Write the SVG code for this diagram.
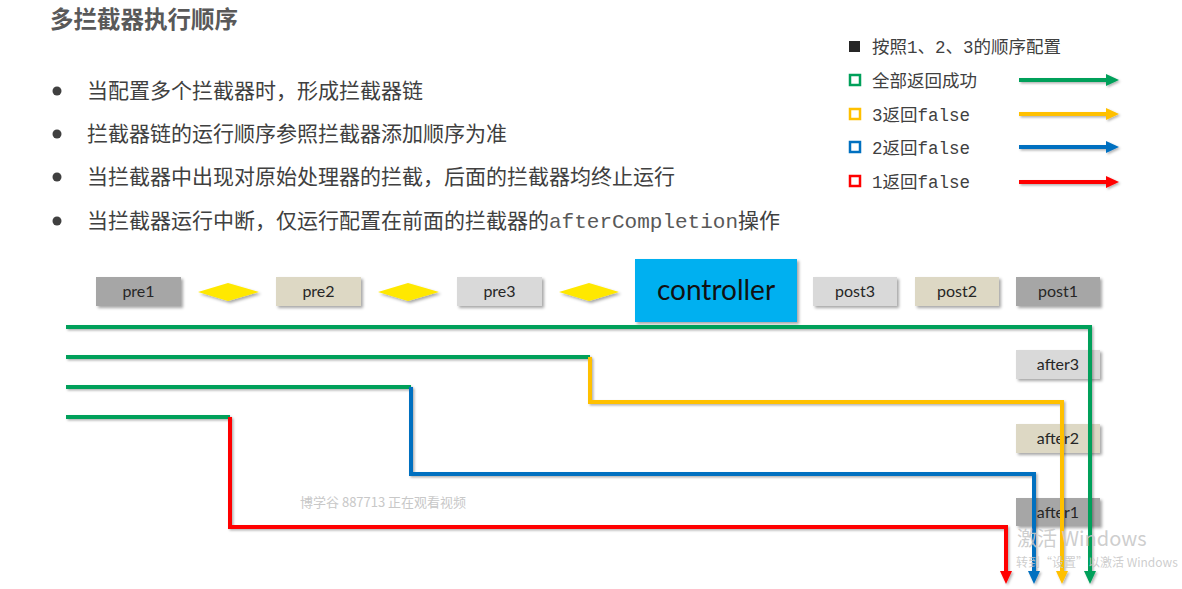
<svg xmlns="http://www.w3.org/2000/svg" width="1182" height="589" viewBox="0 0 1182 589">
<style>
.cn{font-family:"Noto Sans CJK SC","Noto Sans",sans-serif;}
.mono{font-family:"Liberation Mono","DejaVu Sans Mono",monospace;}
.title{font-size:23.5px;font-weight:bold;fill:#595959;}
.bul{font-size:21px;fill:#404040;}
.leg{font-size:17.5px;fill:#404040;}
.box{stroke:none;filter:url(#sh);}
.lbl{font-family:"Lato","Open Sans",sans-serif;font-size:16px;fill:#262626;text-anchor:middle;}
.ln{fill:none;stroke-width:4;stroke-linejoin:miter;filter:url(#lsh);}
.g{stroke:#00A05A;} .o{stroke:#FFC000;} .b{stroke:#0070C0;} .r{stroke:#FF0000;}
.wm{font-family:"Noto Sans CJK SC","Liberation Sans",sans-serif;fill:#c8c8c8;}
</style>
<defs>
<filter id="sh" x="-10%" y="-20%" width="130%" height="160%">
<feDropShadow dx="2" dy="2" stdDeviation="1.5" flood-color="#000" flood-opacity="0.35"/>
</filter>
<filter id="lsh" filterUnits="userSpaceOnUse" x="0" y="0" width="1182" height="589">
<feDropShadow dx="1.5" dy="1.5" stdDeviation="1" flood-color="#000" flood-opacity="0.3"/>
</filter>
<marker id="ag" markerUnits="userSpaceOnUse" markerWidth="14" markerHeight="14" refX="1" refY="7" orient="auto"><path d="M0,1 L13,7 L0,13 z" fill="#00A05A"/></marker>
<marker id="ao" markerUnits="userSpaceOnUse" markerWidth="14" markerHeight="14" refX="1" refY="7" orient="auto"><path d="M0,1 L13,7 L0,13 z" fill="#FFC000"/></marker>
<marker id="ab" markerUnits="userSpaceOnUse" markerWidth="14" markerHeight="14" refX="1" refY="7" orient="auto"><path d="M0,1 L13,7 L0,13 z" fill="#0070C0"/></marker>
<marker id="ar" markerUnits="userSpaceOnUse" markerWidth="14" markerHeight="14" refX="1" refY="7" orient="auto"><path d="M0,1 L13,7 L0,13 z" fill="#FF0000"/></marker>
</defs>
<rect width="1182" height="589" fill="#fff"/>

<g id="title"><text class="cn title" x="50" y="28">多拦截器执行顺序</text></g>

<g id="bullets">
<circle cx="57" cy="91" r="4.5" fill="#404040"/>
<text class="cn bul" x="87" y="98">当配置多个拦截器时，形成拦截器链</text>
<circle cx="57" cy="134" r="4.5" fill="#404040"/>
<text class="cn bul" x="87" y="141">拦截器链的运行顺序参照拦截器添加顺序为准</text>
<circle cx="57" cy="177" r="4.5" fill="#404040"/>
<text class="cn bul" x="87" y="184">当拦截器中出现对原始处理器的拦截，后面的拦截器均终止运行</text>
<circle cx="57" cy="221" r="4.5" fill="#404040"/>
<text class="cn bul" x="87" y="228">当拦截器运行中断，仅运行配置在前面的拦截器的<tspan class="mono" fill="#595959">afterCompletion</tspan>操作</text>
</g>

<g id="legend">
<rect x="849" y="41" width="11" height="11" fill="#262626"/>
<text class="cn leg" x="872" y="53">按照<tspan class="mono">1</tspan>、<tspan class="mono">2</tspan>、<tspan class="mono">3</tspan>的顺序配置</text>
<rect x="850" y="75" width="10" height="10" fill="none" stroke="#00A05A" stroke-width="2.5"/>
<text class="cn leg" x="872" y="87">全部返回成功</text>
<rect x="850" y="109" width="10" height="10" fill="none" stroke="#FFC000" stroke-width="2.5"/>
<text class="cn leg" x="872" y="121"><tspan class="mono">3</tspan>返回<tspan class="mono">false</tspan></text>
<rect x="850" y="142" width="10" height="10" fill="none" stroke="#0070C0" stroke-width="2.5"/>
<text class="cn leg" x="872" y="154"><tspan class="mono">2</tspan>返回<tspan class="mono">false</tspan></text>
<rect x="850" y="176" width="10" height="10" fill="none" stroke="#FF0000" stroke-width="2.5"/>
<text class="cn leg" x="872" y="188"><tspan class="mono">1</tspan>返回<tspan class="mono">false</tspan></text>
<path class="ln g" d="M1019,80 H1107" marker-end="url(#ag)"/>
<path class="ln o" d="M1019,114 H1107" marker-end="url(#ao)"/>
<path class="ln b" d="M1019,147 H1107" marker-end="url(#ab)"/>
<path class="ln r" d="M1019,182 H1107" marker-end="url(#ar)"/>
</g>

<g id="pre1"><rect class="box" x="96" y="277" width="85" height="29" fill="#A6A6A6"/><text class="lbl" x="138.5" y="297">pre1</text></g>
<g id="d1"><polygon class="box" points="198,292 228,283 259,292 228,301" fill="#FFE800"/></g>
<g id="pre2"><rect class="box" x="276" y="277" width="85" height="29" fill="#DDD8C4"/><text class="lbl" x="318.5" y="297">pre2</text></g>
<g id="d2"><polygon class="box" points="378,292 408,283 439,292 408,301" fill="#FFE800"/></g>
<g id="pre3"><rect class="box" x="457" y="277" width="85" height="29" fill="#D9D9D9"/><text class="lbl" x="499.5" y="297">pre3</text></g>
<g id="d3"><polygon class="box" points="559,292 589,283 619,292 589,301" fill="#FFE800"/></g>
<g id="controller"><rect class="box" x="635" y="259" width="162" height="63" fill="#00B0F0"/><text x="716" y="300" font-family="Lato,'Open Sans',sans-serif" font-size="28" fill="#111" text-anchor="middle">controller</text></g>
<g id="post3"><rect class="box" x="813" y="277" width="84" height="29" fill="#D9D9D9"/><text class="lbl" x="855" y="297">post3</text></g>
<g id="post2"><rect class="box" x="915" y="277" width="84" height="29" fill="#DDD8C4"/><text class="lbl" x="957" y="297">post2</text></g>
<g id="post1"><rect class="box" x="1016" y="277" width="84" height="29" fill="#A6A6A6"/><text class="lbl" x="1058" y="297">post1</text></g>
<g id="after3"><rect class="box" x="1016" y="350" width="84" height="29" fill="#D9D9D9"/><text class="lbl" x="1058" y="370">after3</text></g>
<g id="after2"><rect class="box" x="1016" y="424" width="84" height="29" fill="#DDD8C4"/><text class="lbl" x="1058" y="444">after2</text></g>
<g id="after1"><rect class="box" x="1016" y="498" width="84" height="28" fill="#A6A6A6"/><text class="lbl" x="1058" y="518">after1</text></g>

<g id="connectors">
<path class="ln g" d="M66,327 H1090 V572" marker-end="url(#ag)"/>
<path class="ln g" d="M66,357 H590"/>
<path class="ln o" d="M590,357 V402 H1062 V572" marker-end="url(#ao)"/>
<path class="ln g" d="M66,387 H411"/>
<path class="ln b" d="M411,387 V474 H1034 V572" marker-end="url(#ab)"/>
<path class="ln g" d="M66,417 H230"/>
<path class="ln r" d="M230,417 V527 H1006 V572" marker-end="url(#ar)"/>
</g>

<g id="watermarks">
<text class="wm" x="300" y="507" font-size="13">博学谷 887713 正在观看视频</text>
<text class="wm" x="1017" y="546" font-size="20" fill-opacity="0.9">激活 Windows</text>
<text class="wm" x="1016" y="567" font-size="12" fill-opacity="0.9">转到“设置”以激活 Windows</text>
</g>
</svg>
